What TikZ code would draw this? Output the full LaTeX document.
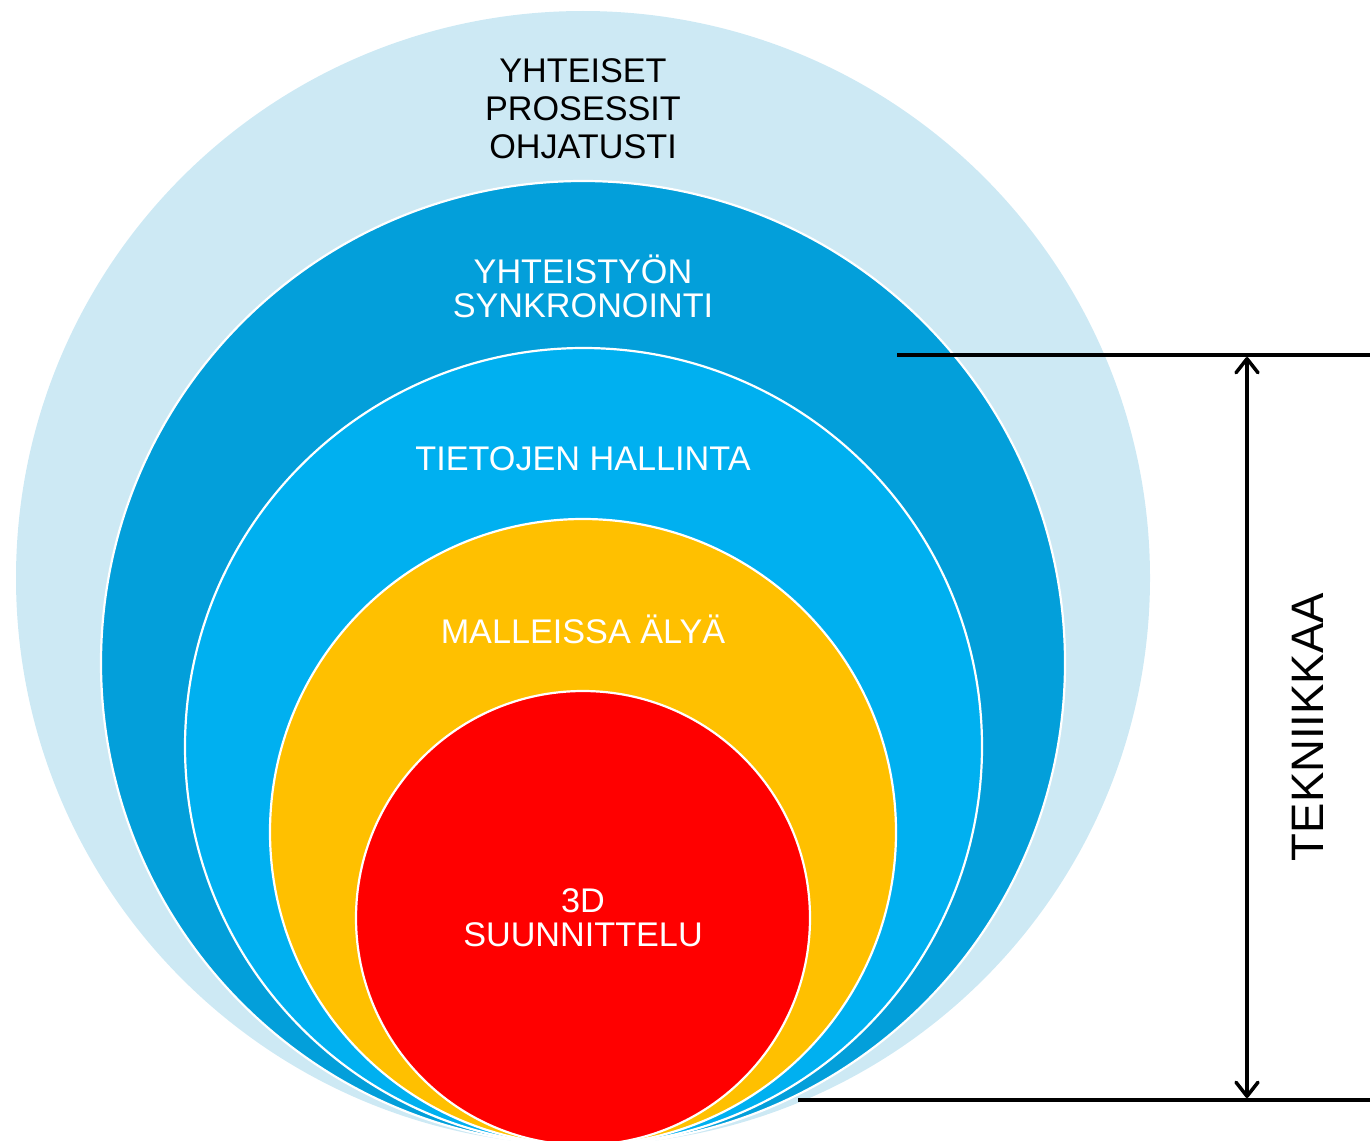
\documentclass[tikz,border=0pt]{standalone}
\usepackage{fontspec}
\setmainfont{Liberation Sans}
\usetikzlibrary{arrows.meta}
\definecolor{cOuter}{HTML}{CDE9F4}
\definecolor{cDark}{HTML}{039FDA}
\definecolor{cMid}{HTML}{00B0F0}
\definecolor{cYellow}{HTML}{FFC000}
\definecolor{cRed}{HTML}{FF0000}
\tikzset{
  ring/.style={circle, draw=white, line width=2.2pt, inner sep=0pt, outer sep=0pt},
  lbl/.style={anchor=base, inner sep=0pt, font=\fontsize{34.2}{38}\selectfont},
  rule/.style={line width=4pt, black},
  dimarrow/.style={line width=3.5pt, line cap=round, line join=round,
    {Straight Barb[length=14pt,width=22pt,line cap=round,line join=round]}-{Straight Barb[length=14pt,width=22pt,line cap=round,line join=round]}}
}
\begin{document}
\begin{tikzpicture}[x=1pt,y=-1pt]
\useasboundingbox (0,0) rectangle (1370,1140);
\node[ring, draw=none, fill=cOuter, minimum size=1134pt] (outer) at (583,578) {};
\node[ring, fill=cDark, minimum size=964pt] (dark) at (583,663) {};
\node[ring, fill=cMid, minimum size=797pt] (mid) at (583.5,746.5) {};
\node[ring, fill=cYellow, minimum size=626pt] (yellow) at (583,832) {};
\node[ring, fill=cRed, minimum size=454pt] (red) at (583,918) {};

\node[lbl, text=black] (t1a) at (583,82) {YHTEISET};
\node[lbl, text=black] (t1b) at (583,120) {PROSESSIT};
\node[lbl, text=black] (t1c) at (583,158) {OHJATUSTI};
\node[lbl, text=white] (t2a) at (583,283) {YHTEISTYÖN};
\node[lbl, text=white] (t2b) at (583,317.5) {SYNKRONOINTI};
\node[lbl, text=white] (t3) at (583,470) {TIETOJEN HALLINTA};
\node[lbl, text=white] (t4) at (583,643) {MALLEISSA ÄLYÄ};
\node[lbl, text=white] (t5a) at (583,912) {3D};
\node[lbl, text=white] (t5b) at (583,946) {SUUNNITTELU};

\coordinate (topL) at (897,355);
\coordinate (topR) at (1370,355);
\coordinate (botL) at (798,1100);
\coordinate (botR) at (1370,1100);
\coordinate (arTop) at (1247,357);
\coordinate (arBot) at (1247,1098);
\draw[rule] (topL) -- (topR);
\draw[rule] (botL) -- (botR);
\draw[dimarrow] (arTop) -- (arBot);
\node[lbl, text=black, font=\fontsize{45.5}{48}\selectfont, rotate=90] (tek) at (1323,727) {TEKNIIKKAA};
\end{tikzpicture}
\end{document}
